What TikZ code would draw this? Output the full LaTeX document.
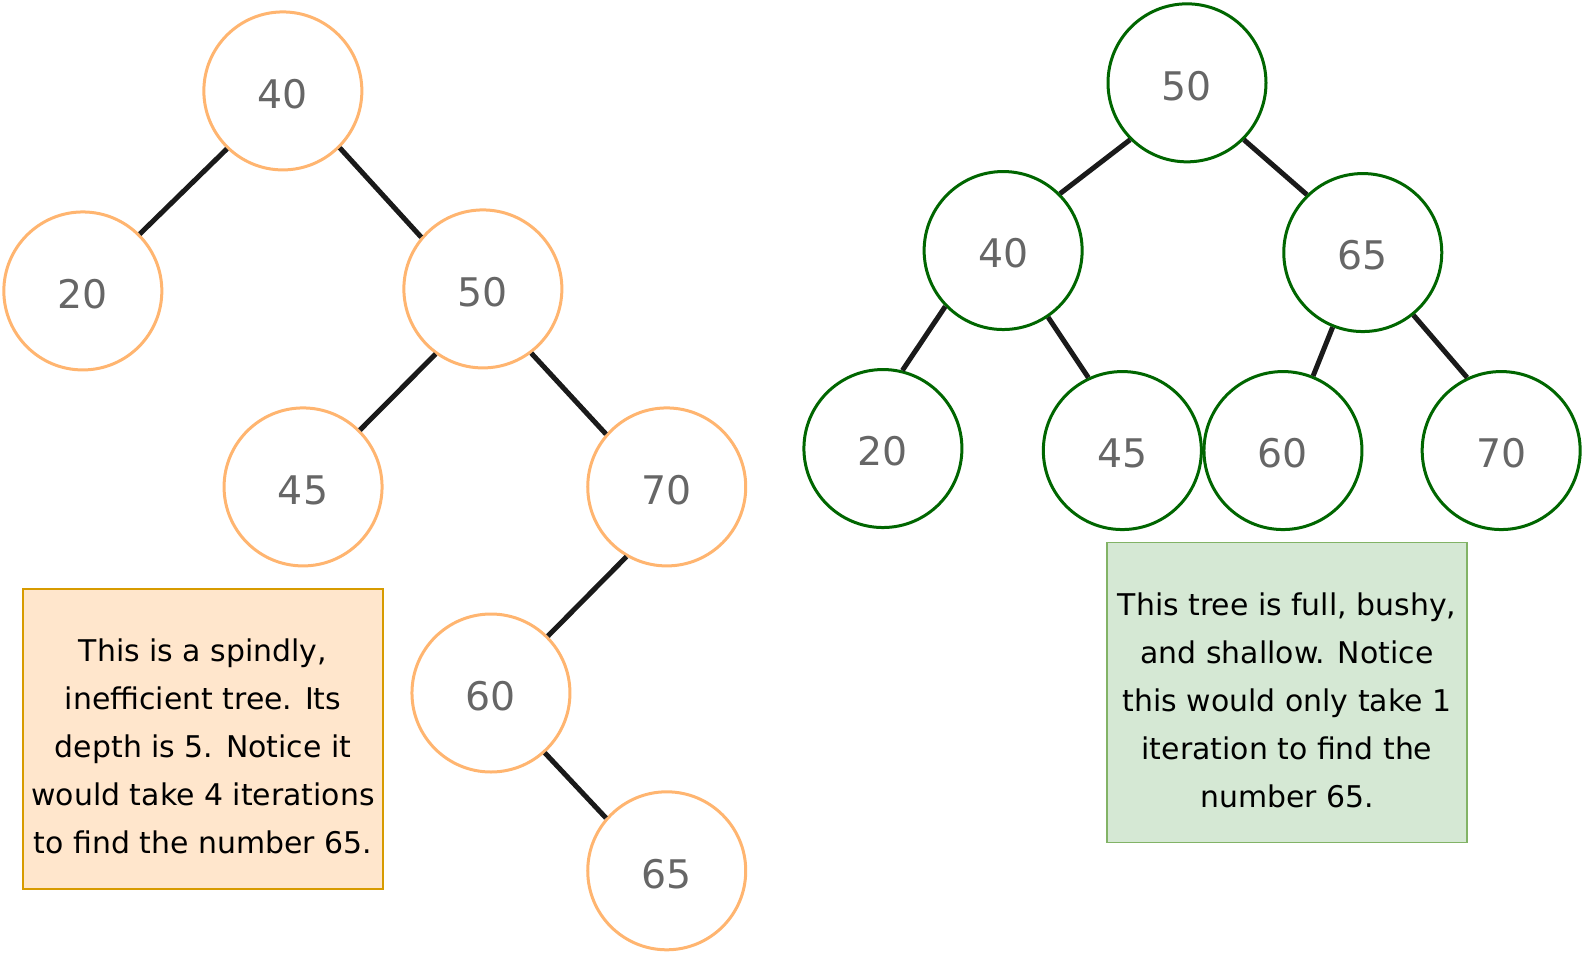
\documentclass[tikz,border=0pt]{standalone}
\usepackage{fontspec}
\setmainfont{DejaVu Sans}
\definecolor{orng}{HTML}{FFB570}
\definecolor{grn}{HTML}{006600}
\definecolor{numgray}{HTML}{666666}
\definecolor{edgec}{HTML}{1A1A1A}
\definecolor{lfill}{HTML}{FFE6CC}
\definecolor{lstroke}{HTML}{D79B00}
\definecolor{rfill}{HTML}{D5E8D4}
\definecolor{rstroke}{HTML}{82B366}
\newcommand\numtxt[1]{\raisebox{-3pt}[\height][\depth]{#1}}
\begin{document}
\begin{tikzpicture}[x=1.0102pt,y=-1.0102pt,
  treenode/.style={circle,draw,line width=3pt,minimum size=158pt,inner sep=0pt,fill=white,
    text=numgray,font=\fontsize{39.4}{47}\selectfont},
  onode/.style={treenode,draw=orng},
  gnode/.style={treenode,draw=grn},
  edge/.style={draw=edgec,line width=5pt},
  notebox/.style={rectangle,line width=1.5pt,minimum width=359.6pt,minimum height=300pt,inner sep=0pt},
  notetext/.style={align=center,text=black,font=\fontsize{29.9}{48}\selectfont,inner sep=0pt}
]
\useasboundingbox (0,0) rectangle (1568,944.36);
% left tree
\node[onode] (l40) at (280,90) {\numtxt{40}};
\node[onode] (l20) at (82,288) {\numtxt{20}};
\node[onode] (l50) at (478,286) {\numtxt{50}};
\node[onode] (l45) at (300,482) {\numtxt{45}};
\node[onode] (l70) at (660,482) {\numtxt{70}};
\node[onode] (l60) at (486,686) {\numtxt{60}};
\node[onode] (l65) at (660,862) {\numtxt{65}};
\draw[edge] (l40.226) -- (l20.45);
\draw[edge] (l40.315) -- (l50.140);
\draw[edge] (l50.234) -- (l45.45);
\draw[edge] (l50.307) -- (l70.139);
\draw[edge] (l70.240) -- (l60.45);
\draw[edge] (l60.312) -- (l65.139);
% right tree
\node[gnode] (r50) at (1175,82) {\numtxt{50}};
\node[gnode] (r40) at (993,248) {\numtxt{40}};
\node[gnode] (r65) at (1349,250) {\numtxt{65}};
\node[gnode] (r20) at (874,444) {\numtxt{20}};
\node[gnode] (r45) at (1111,446) {\numtxt{45}};
\node[gnode] (r60) at (1270,446) {\numtxt{60}};
\node[gnode] (r70) at (1486,446) {\numtxt{70}};
\draw[edge] (r50.225) -- (r40.45);
\draw[edge] (r50.315) -- (r65.134);
\draw[edge] (r40.224) -- (r20.76);
\draw[edge] (r40.304) -- (r45.115);
\draw[edge] (r65.248) -- (r60.68);
\draw[edge] (r65.309) -- (r70.115);
% notes
\node[notebox,draw=lstroke,fill=lfill] (lbox) at (201,731.5) {};
\node[notetext] (ltext) at ([yshift=-7.5pt]lbox.center) {This is a spindly,\\inefficient tree. Its\\depth is 5. Notice it\\would take 4 iterations\\to find the number 65.};
\node[notebox,draw=rstroke,fill=rfill] (rbox) at (1274,685.5) {};
\node[notetext] (rtext) at ([yshift=-7.5pt]rbox.center) {This tree is full, bushy,\\and shallow. Notice\\this would only take 1\\iteration to find the\\number 65.};
\end{tikzpicture}
\end{document}
